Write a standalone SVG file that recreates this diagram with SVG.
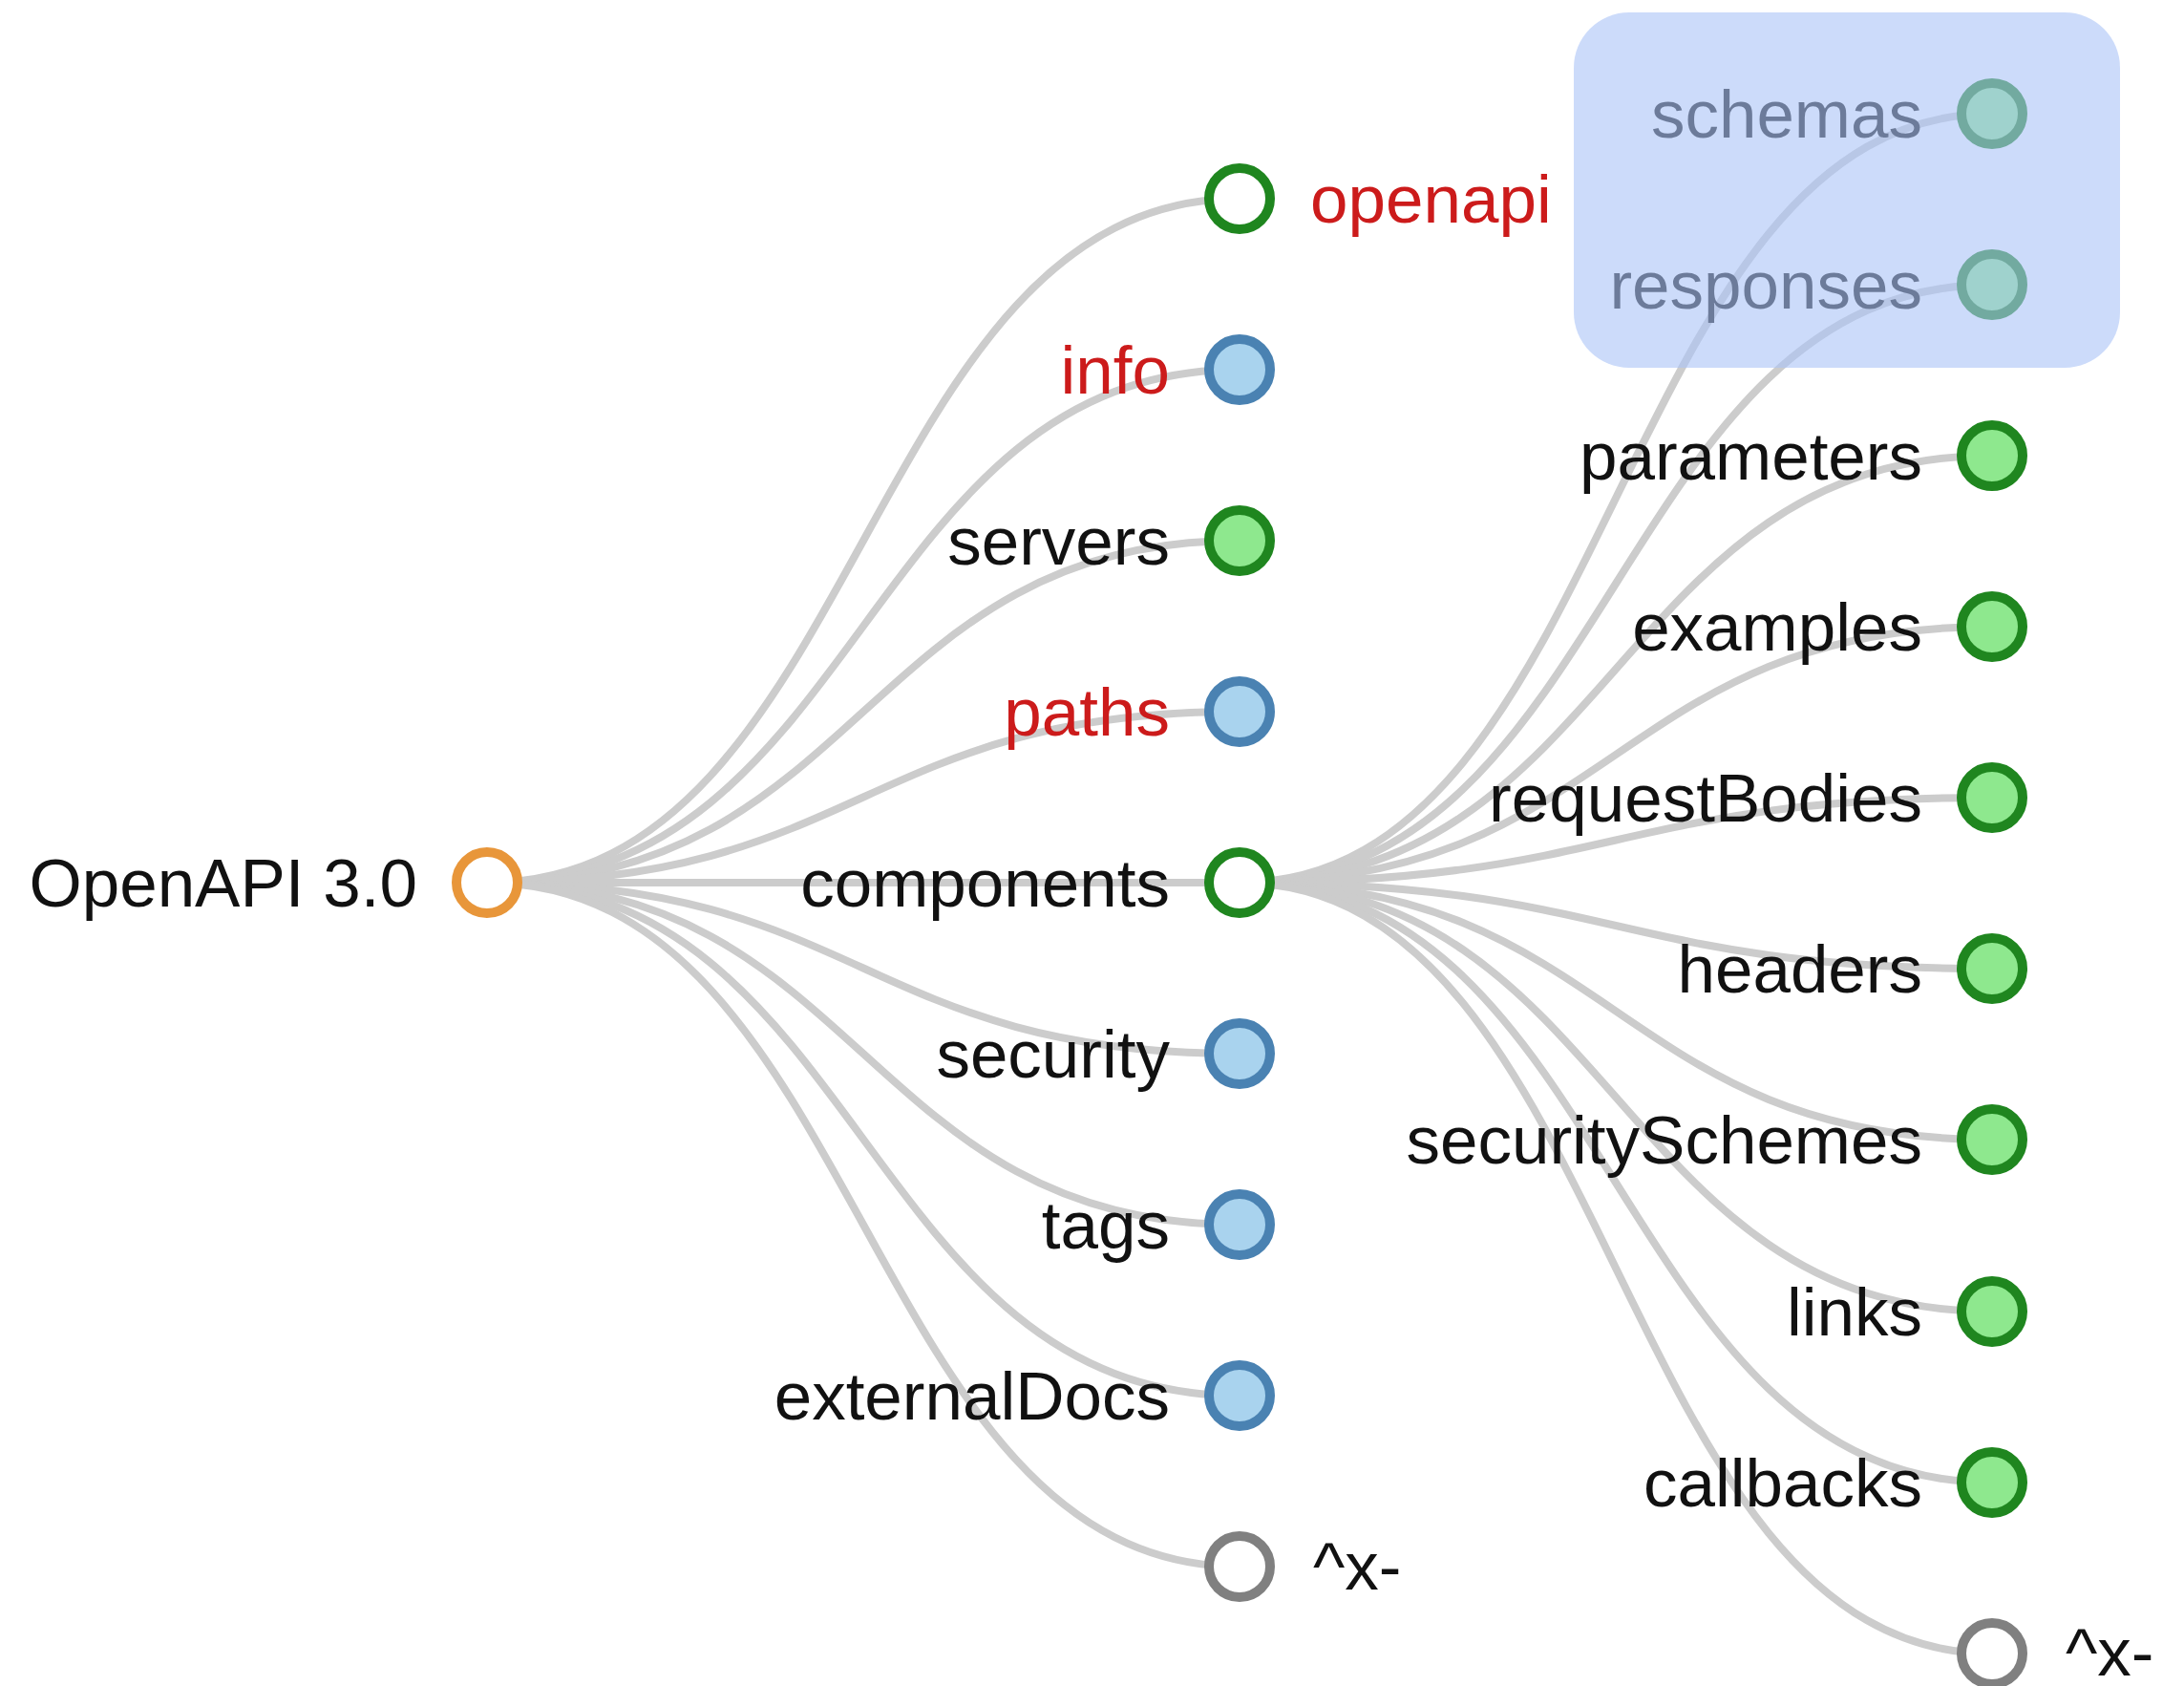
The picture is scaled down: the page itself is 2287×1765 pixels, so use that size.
<svg xmlns="http://www.w3.org/2000/svg" width="2287" height="1765" viewBox="0 0 2287 1765">
<style>
.bg{fill:#ffffff}
.link{fill:none;stroke:#cccccc;stroke-width:8}
.n circle{stroke-width:10}
.root{fill:#ffffff;stroke:#e8963a}
.gw{fill:#ffffff;stroke:#1f861f}
.gf{fill:#8ee88e;stroke:#1f861f}
.bf{fill:#a9d3ee;stroke:#4a82b2}
.gr{fill:#ffffff;stroke:#808080}
text{font-family:"Liberation Sans",Arial,Helvetica,sans-serif;font-size:71px;fill:#111111}
text.l{text-anchor:end}
text.r{text-anchor:start}
text.red{fill:#cc1b1b}
.hl{fill:rgb(170,195,247);fill-opacity:0.6}
</style>
<rect class="bg" x="0" y="0" width="2287" height="1765"/>
<g id="connectors">
<path class="link" d="M510,924 C904,924 904,208 1298,208"/>
<path class="link" d="M510,924 C904,924 904,387 1298,387"/>
<path class="link" d="M510,924 C904,924 904,566 1298,566"/>
<path class="link" d="M510,924 C904,924 904,745 1298,745"/>
<path class="link" d="M510,924 C904,924 904,924 1298,924"/>
<path class="link" d="M510,924 C904,924 904,1103 1298,1103"/>
<path class="link" d="M510,924 C904,924 904,1282 1298,1282"/>
<path class="link" d="M510,924 C904,924 904,1461 1298,1461"/>
<path class="link" d="M510,924 C904,924 904,1640 1298,1640"/>
<path class="link" d="M1298,924 C1692,924 1692,119 2086,119"/>
<path class="link" d="M1298,924 C1692,924 1692,298 2086,298"/>
<path class="link" d="M1298,924 C1692,924 1692,477 2086,477"/>
<path class="link" d="M1298,924 C1692,924 1692,656 2086,656"/>
<path class="link" d="M1298,924 C1692,924 1692,835 2086,835"/>
<path class="link" d="M1298,924 C1692,924 1692,1014 2086,1014"/>
<path class="link" d="M1298,924 C1692,924 1692,1193 2086,1193"/>
<path class="link" d="M1298,924 C1692,924 1692,1373 2086,1373"/>
<path class="link" d="M1298,924 C1692,924 1692,1552 2086,1552"/>
<path class="link" d="M1298,924 C1692,924 1692,1731 2086,1731"/>
</g>
<g id="node-root" class="n"><circle class="root" cx="510" cy="924" r="32"/><text class="l" x="437" y="949">OpenAPI 3.0</text></g>
<g id="node-openapi" class="n"><circle class="gw" cx="1298" cy="208" r="32"/><text class="r red" x="1372" y="233">openapi</text></g>
<g id="node-info" class="n"><circle class="bf" cx="1298" cy="387" r="32"/><text class="l red" x="1225" y="412">info</text></g>
<g id="node-servers" class="n"><circle class="gf" cx="1298" cy="566" r="32"/><text class="l" x="1225" y="591">servers</text></g>
<g id="node-paths" class="n"><circle class="bf" cx="1298" cy="745" r="32"/><text class="l red" x="1225" y="770">paths</text></g>
<g id="node-components" class="n"><circle class="gw" cx="1298" cy="924" r="32"/><text class="l" x="1225" y="949">components</text></g>
<g id="node-security" class="n"><circle class="bf" cx="1298" cy="1103" r="32"/><text class="l" x="1225" y="1128">security</text></g>
<g id="node-tags" class="n"><circle class="bf" cx="1298" cy="1282" r="32"/><text class="l" x="1225" y="1307">tags</text></g>
<g id="node-externalDocs" class="n"><circle class="bf" cx="1298" cy="1461" r="32"/><text class="l" x="1225" y="1486">externalDocs</text></g>
<g id="node-x1" class="n"><circle class="gr" cx="1298" cy="1640" r="32"/><text class="r" x="1375" y="1664">^x-</text></g>
<g id="node-schemas" class="n"><circle class="gf" cx="2086" cy="119" r="32"/><text class="l" x="2013" y="144">schemas</text></g>
<g id="node-responses" class="n"><circle class="gf" cx="2086" cy="298" r="32"/><text class="l" x="2013" y="323">responses</text></g>
<g id="node-parameters" class="n"><circle class="gf" cx="2086" cy="477" r="32"/><text class="l" x="2013" y="502">parameters</text></g>
<g id="node-examples" class="n"><circle class="gf" cx="2086" cy="656" r="32"/><text class="l" x="2013" y="681">examples</text></g>
<g id="node-requestBodies" class="n"><circle class="gf" cx="2086" cy="835" r="32"/><text class="l" x="2013" y="860">requestBodies</text></g>
<g id="node-headers" class="n"><circle class="gf" cx="2086" cy="1014" r="32"/><text class="l" x="2013" y="1039">headers</text></g>
<g id="node-securitySchemes" class="n"><circle class="gf" cx="2086" cy="1193" r="32"/><text class="l" x="2013" y="1218">securitySchemes</text></g>
<g id="node-links" class="n"><circle class="gf" cx="2086" cy="1373" r="32"/><text class="l" x="2013" y="1398">links</text></g>
<g id="node-callbacks" class="n"><circle class="gf" cx="2086" cy="1552" r="32"/><text class="l" x="2013" y="1577">callbacks</text></g>
<g id="node-x2" class="n"><circle class="gr" cx="2086" cy="1731" r="32"/><text class="r" x="2163" y="1754">^x-</text></g>
<g id="highlight"><rect class="hl" x="1648" y="13" width="572" height="372" rx="58" ry="58"/></g>
</svg>
